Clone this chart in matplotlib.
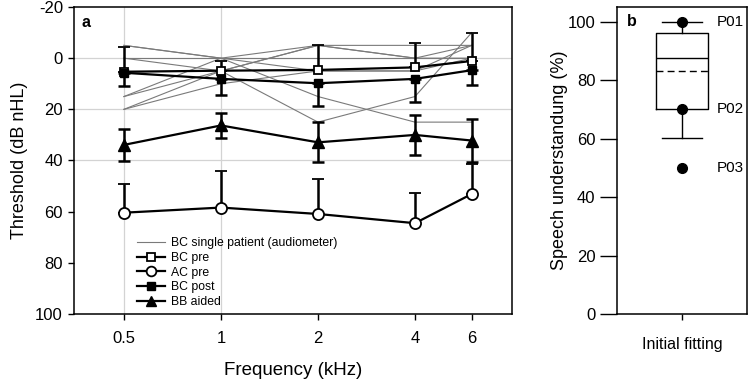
import numpy as np
import matplotlib
matplotlib.use("Agg")
import matplotlib.pyplot as plt
from matplotlib.lines import Line2D

plt.rcParams['font.family'] = ['Liberation Sans', 'DejaVu Sans']
plt.rcParams['axes.unicode_minus'] = False

# panel a: frequencies (kHz)
freq = [0.5, 1, 2, 4, 6]
freq_labels = ['0.5', '1', '2', '4', '6']

# single patients (audiometer), dB
patients = [
    [-5, 0, 15, 25, 25],
    [0, 5, 25, 15, -10],
    [20, 5, -5, -5, -5],
    [15, 0, -5, 0, -5],
    [20, 10, 5, 5, 0],
    [15, 5, -5, 0, 0],
    [0, 0, 0, 0, 0],
    [-5, 0, 5, 5, -5],
]

bc_pre = [5.3, 4.9, 4.6, 3.6, 1.1]
bc_pre_sd = [9.8, 3.8, 9.9, 9.7, 10.8]
ac_pre = [60.4, 58.4, 60.9, 64.5, 53.1]
ac_pre_sd = [11.1, 14.3, 13.5, 11.7, 11.6]
bc_post = [5.7, 8.1, 9.8, 8.1, 4.7]
bc_post_sd = [5.2, 6.2, 8.9, 9.0, 5.8]
bb_aided = [33.9, 26.3, 32.9, 30.0, 32.2]
bb_aided_sd = [6.3, 5.0, 7.8, 7.9, 8.5]

# panel b: speech understanding (%)
box_q1, box_med, box_q3 = 70.2, 87.6, 96.1
box_mean = 83.2
whisk_lo, whisk_hi = 60.2, 100
pts = [100, 70, 50]
pt_names = ['P01', 'P02', 'P03']

fig = plt.figure(figsize=(7.49, 3.8), dpi=100)
ax = fig.add_axes([74/749, 66/380, 438/749, 307/380])
bx = fig.add_axes([617/749, 66/380, 130/749, 307/380])

# grid
for g in [0, 20, 40]:
    ax.axhline(g, color='#d3d3d3', lw=0.9, zorder=0)
for g in [0.5, 1]:
    ax.axvline(g, color='#d3d3d3', lw=0.9, zorder=0)

for p in patients:
    ax.plot(freq, p, color='#7a7a7a', lw=0.8, zorder=1)

ebkw = dict(color='black', lw=1.6, elinewidth=1.8, capsize=4.5, capthick=1.8, zorder=3)
z = np.zeros(5)
ax.errorbar(freq, bc_pre, yerr=[bc_pre_sd, z], marker='s', ms=6, mfc='white',
            mec='black', mew=1.3, **ebkw)
ax.errorbar(freq, ac_pre, yerr=[ac_pre_sd, z], marker='o', ms=8, mfc='white',
            mec='black', mew=1.3, **ebkw)
ax.errorbar(freq, bc_post, yerr=[z, bc_post_sd], marker='s', ms=6, mfc='black',
            mec='black', **ebkw)
ax.errorbar(freq, bb_aided, yerr=bb_aided_sd, marker='^', ms=8, mfc='black',
            mec='black', **ebkw)

handles = [
    Line2D([], [], color='#7a7a7a', lw=0.8),
    Line2D([], [], color='black', lw=1.6, marker='s', ms=6, mfc='white', mew=1.3),
    Line2D([], [], color='black', lw=1.6, marker='o', ms=7, mfc='white', mew=1.3),
    Line2D([], [], color='black', lw=1.6, marker='s', ms=6, mfc='black'),
    Line2D([], [], color='black', lw=1.6, marker='^', ms=7, mfc='black'),
]
labels = ['BC single patient (audiometer)', 'BC pre', 'AC pre', 'BC post', 'BB aided']
ax.legend(handles, labels, loc='lower left', bbox_to_anchor=(0.125, -0.008), frameon=False,
          fontsize=8.8, handlelength=2.3, labelspacing=0.22,
          handletextpad=0.45, borderpad=0.2)

ax.set_xscale('log')
ax.set_xlim(0.35, 8)
ax.set_xticks(freq)
ax.set_xticklabels(freq_labels)
ax.minorticks_off()
ax.set_ylim(100, -20)
ax.set_yticks([-20, 0, 20, 40, 60, 80, 100])
ax.tick_params(labelsize=12, length=4.5, width=1, direction='out')
ax.tick_params(axis='x', pad=8)
ax.set_xlabel('Frequency (kHz)', fontsize=13.5, labelpad=11)
ax.set_ylabel('Threshold (dB nHL)', fontsize=13, labelpad=5)
for s in ax.spines.values():
    s.set_linewidth(1.1)
ax.text(0.018, 0.95, 'a', transform=ax.transAxes, fontsize=11.5, fontweight='bold',
        va='center', ha='left')

# panel b
stats = [dict(med=box_med, q1=box_q1, q3=box_q3, whislo=whisk_lo, whishi=whisk_hi,
              mean=box_mean, fliers=[], label='Initial fitting')]
bx.bxp(stats, positions=[1], widths=0.4, capwidths=0.31, showmeans=True, meanline=True,
       showfliers=False,
       boxprops=dict(color='black', lw=1),
       medianprops=dict(color='black', lw=1),
       meanprops=dict(color='black', lw=1, linestyle=(0, (5, 3))),
       whiskerprops=dict(color='black', lw=1),
       capprops=dict(color='black', lw=1))
bx.plot([1] * len(pts), pts, 'o', color='black', ms=7, zorder=4, clip_on=False)
for v, n in zip(pts, pt_names):
    bx.text(1.27, v, n, fontsize=11, va='center', ha='left')
bx.text(0.58, 100, 'b', fontsize=11.5, fontweight='bold', va='center', ha='left')
bx.set_xlim(0.5, 1.5)
bx.set_ylim(0, 105)
bx.set_yticks([0, 20, 40, 60, 80, 100])
bx.tick_params(axis='y', labelsize=12, length=12, width=1, direction='out')
bx.tick_params(axis='x', labelsize=11.5, length=4.5, width=1, direction='out', pad=12)
bx.set_ylabel('Speech understandung (%)', fontsize=13, labelpad=0)
for s in bx.spines.values():
    s.set_linewidth(1.1)

fig.savefig('out.png', dpi=100)
